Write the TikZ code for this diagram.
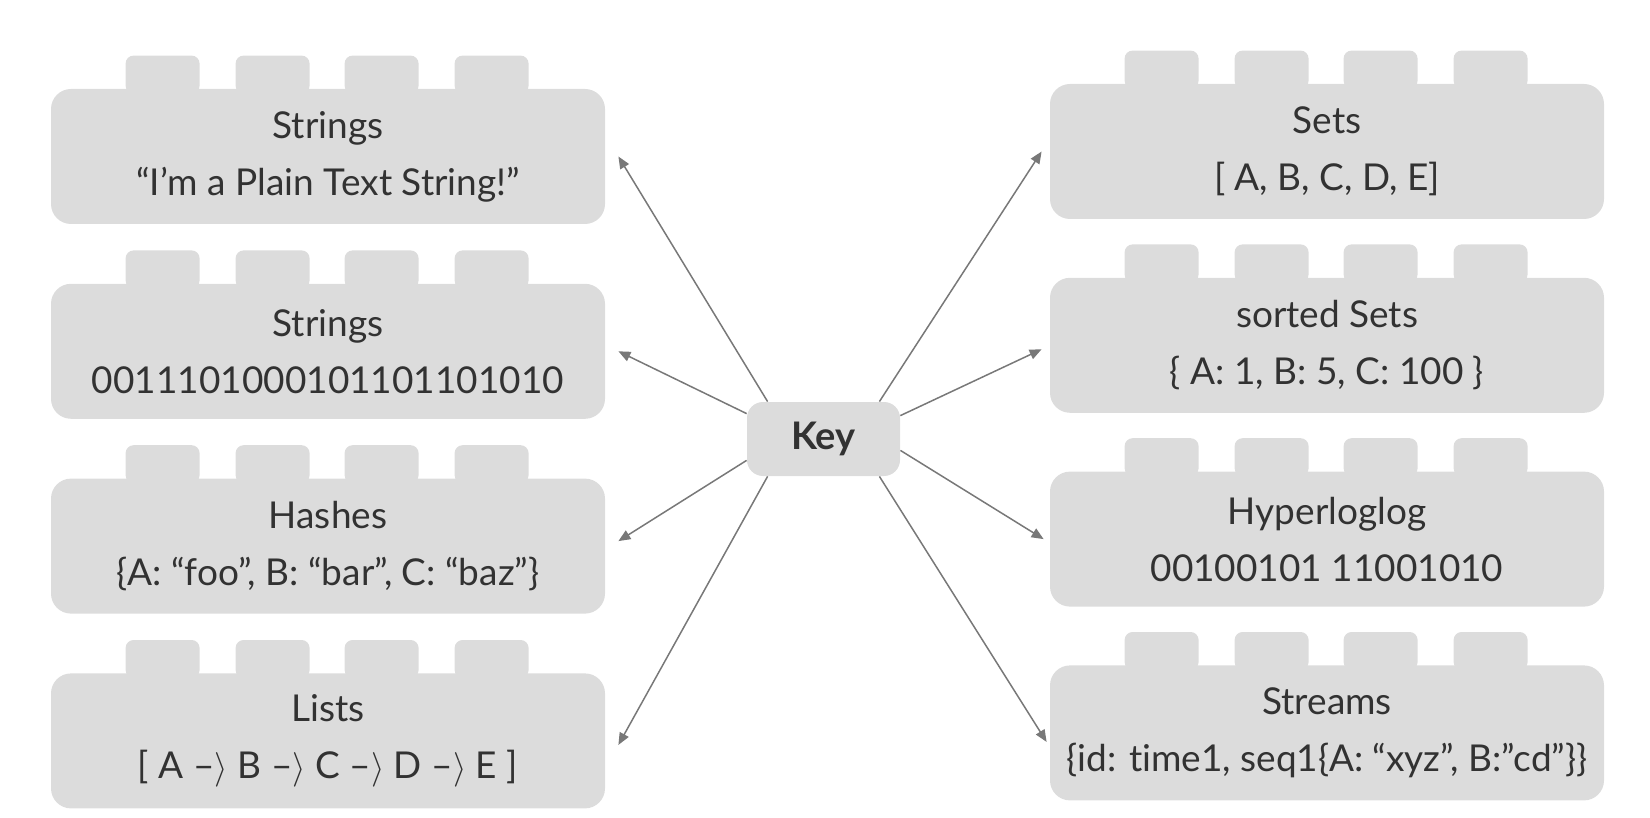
\documentclass[tikz,border=0pt]{standalone}
\usepackage{fontspec}
\setmainfont{Lato}[Ligatures=NoCommon]
\usepackage{tikz}
\usetikzlibrary{arrows.meta, positioning}
\definecolor{brickgray}{RGB}{220,220,220}
\definecolor{linegray}{RGB}{120,120,120}
\definecolor{textgray}{RGB}{50,50,50}
\tikzstyle{brick} = [rectangle, rounded corners=10pt, minimum width=277pt, minimum height=67.5pt, align=center, fill=brickgray, text=textgray, font=\fontsize{18.5}{28.5}\selectfont]
\tikzstyle{stud} = [fill=brickgray, rounded corners=4pt]
\tikzstyle{keybox} = [rectangle, rounded corners=8pt, minimum width=76.5pt, minimum height=37pt, align=center, fill=brickgray, text=textgray, font=\fontsize{19}{22}\selectfont\bfseries]
\tikzstyle{keyarrow} = [line width=0.75pt, draw=linegray, -{Triangle[length=6pt, width=5pt]}]

\begin{document}
\begin{tikzpicture}[x=0.5pt, y=-0.5pt]
            \useasboundingbox (0,0) rectangle (1650,818);

            % Place nodes
            \node (str) [brick] at (328,156.5) {Strings\\“I’m a Plain Text String!”};
            \node (bits) [brick, below=29.5pt of str] {Strings\\0011101000101101101010};
            \node (hash) [brick, below=29.5pt of bits] {Hashes\\\{A: “foo”, B: “bar”, C: “baz”\}};
            \node (list) [brick, below=29.5pt of hash] {Lists\\{}[ A –$\rangle$ B –$\rangle$ C –$\rangle$ D –$\rangle$ E ]};
            \node (sets) [brick] at (1327,151.5) {Sets\\{}[ A, B, C, D, E]};
            \node (zsets) [brick, below=29pt of sets] {sorted Sets\\\{ A: 1, B: 5, C: 100 \}};
            \node (hll) [brick, below=29pt of zsets] {Hyperloglog\\00100101 11001010};
            \node (stream) [brick, below=29pt of hll] {Streams\\\{id: time1, seq1\{A: “xyz”, B:”cd”\}\}};
            \node (key) [keybox] at (823.5,439) {Key};

            % Studs on top of each brick
            \foreach \b in {str,bits,hash,list,sets,zsets,hll,stream}
                \foreach \o in {75,185,294,404}
                    \fill[stud] ([xshift=\o*0.5pt, yshift=-2.5pt]\b.north west) rectangle ++(74,-38);

            % Draw edges
            \draw [keyarrow] ([xshift=10.5pt]key.north west) -- ([xshift=6.5pt]str.east);
            \draw [keyarrow] ([yshift=-6pt]key.north west) -- ([xshift=6.5pt]bits.east);
            \draw [keyarrow] ([yshift=8pt]key.south west) -- ([xshift=6.5pt, yshift=2.5pt]hash.east);
            \draw [keyarrow] ([xshift=10.5pt]key.south west) -- ([xshift=6.5pt, yshift=-2pt]list.east);
            \draw [keyarrow] ([xshift=-10.5pt]key.north east) -- ([xshift=-4pt]sets.west);
            \draw [keyarrow] ([yshift=-7pt]key.north east) -- ([xshift=-4pt, yshift=-2pt]zsets.west);
            \draw [keyarrow] ([yshift=13pt]key.south east) -- ([xshift=-3pt]hll.west);
            \draw [keyarrow] ([xshift=-10.5pt]key.south east) -- ([xshift=-1.5pt, yshift=-4.5pt]stream.west);
\end{tikzpicture}
\end{document}
